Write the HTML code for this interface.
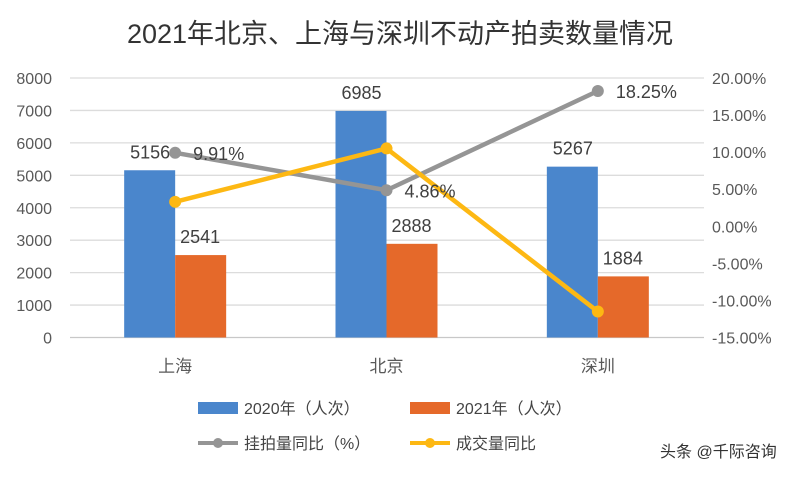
<!DOCTYPE html>
<html><head><meta charset="utf-8"><style>
body{margin:0;background:#fff;}
svg text{font-family:"Liberation Sans","Noto Sans CJK SC",sans-serif;}
</style></head><body>
<svg width="800" height="475" xmlns="http://www.w3.org/2000/svg">
<rect width="800" height="475" fill="#fff"/>
<text x="400" y="43" text-anchor="middle" font-size="27" fill="#333">2021年北京、上海与深圳不动产拍卖数量情况</text>
<g id="grid"></g><g id="bars"></g><g id="lines"></g><g id="axes"></g>
<g font-size="16" fill="#444">
<rect x="198" y="402" width="40" height="12" fill="#4a86cc"/>
<text x="244" y="414">2020年（人次）</text>
<rect x="410" y="402" width="40" height="12" fill="#e5692a"/>
<text x="456" y="414">2021年（人次）</text>
<line x1="198" y1="443" x2="238" y2="443" stroke="#959595" stroke-width="4"/>
<circle cx="218" cy="443" r="5" fill="#959595"/>
<text x="244" y="449">挂拍量同比（%）</text>
<line x1="410" y1="443" x2="450" y2="443" stroke="#fdb813" stroke-width="4"/>
<circle cx="430" cy="443" r="5" fill="#fdb813"/>
<text x="456" y="449">成交量同比</text>
</g>
<text x="660" y="457" font-size="16" fill="#333">头条 @千际咨询</text>
</svg>
<script>
const categories=["上海","北京","深圳"];
const v2020=[5156,6985,5267];
const v2021=[2541,2888,1884];
const listingYoY=[9.91,4.86,18.25];
const dealYoY=[3.3,10.5,-11.5];
const leftTicks=[0,1000,2000,3000,4000,5000,6000,7000,8000];
const rightTicks=[-15,-10,-5,0,5,10,15,20];
const NS="http://www.w3.org/2000/svg";
const X0=70,X1=704,Y0=337.5,YT=78;
const yL=v=>Y0-(v/8000)*(Y0-YT);
const yR=v=>Y0-((v+15)/35)*(Y0-YT);
const xC=i=>X0+(X1-X0)/3*(i+0.5)-0.5;
function mk(p,t,a){const e=document.createElementNS(NS,t);for(const k in a)e.setAttribute(k,a[k]);document.getElementById(p).appendChild(e);return e;}
leftTicks.forEach(t=>{
 const l=mk('grid','line',{x1:X0,x2:X1,y1:yL(t),y2:yL(t),stroke:t===0?'#c8c8c8':'#dcdcdc','stroke-width':1.3});
 
 
 const tx=mk('axes','text',{x:52,y:yL(t)+6,'text-anchor':'end','font-size':16,fill:'#595959'});tx.textContent=t;
 
 
});
rightTicks.forEach(t=>{
 const tx=mk('axes','text',{x:712,y:yR(t)+6,'font-size':16,fill:'#595959'});tx.textContent=t.toFixed(2)+'%';
 
 
});
categories.forEach((c,i)=>{
 const cx=xC(i);
 const b1=mk('bars','rect',{x:cx-51,y:yL(v2020[i]),width:51,height:Y0-yL(v2020[i]),fill:'#4a86cc'});
 
 
 const b2=mk('bars','rect',{x:cx,y:yL(v2021[i]),width:51,height:Y0-yL(v2021[i]),fill:'#e5692a'});
 
 
 const t1=mk('bars','text',{x:cx-25,y:yL(v2020[i])-12,'text-anchor':'middle','font-size':18,fill:'#404040'});t1.textContent=v2020[i];
 
 
 const t2=mk('bars','text',{x:cx+25,y:yL(v2021[i])-12,'text-anchor':'middle','font-size':18,fill:'#404040'});t2.textContent=v2021[i];
 
 
 const ct=mk('axes','text',{x:cx,y:372,'text-anchor':'middle','font-size':17,fill:'#595959'});ct.textContent=c;
 
 
});
function line(arr,col,name){
 const pl=mk('lines','polyline',{points:arr.map((v,i)=>xC(i)+','+yR(v)).join(' '),fill:'none',stroke:col,'stroke-width':4.5,'stroke-linejoin':'round'});
 
 
 arr.forEach((v,i)=>{const c=mk('lines','circle',{cx:xC(i),cy:yR(v),r:6,fill:col});
 
 });
}
line(listingYoY,'#959595','listing-yoy-line');
line(dealYoY,'#fdb813','deal-yoy-line');
listingYoY.forEach((v,i)=>{
 const t=mk('lines','text',{x:xC(i)+18,y:yR(v)+7,'font-size':18,fill:'#404040'});t.textContent=v.toFixed(2)+'%';
 
 
});
</script>
</body></html>
